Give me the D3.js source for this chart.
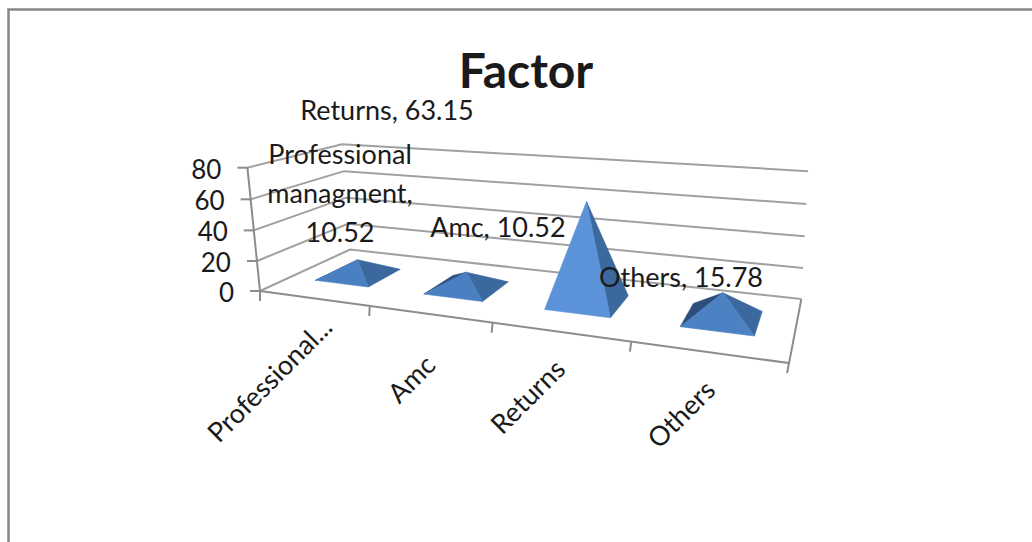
<!DOCTYPE html>
<html>
<head>
<meta charset="utf-8">
<script src="https://cdn.jsdelivr.net/npm/d3@7"></script>
<style>
  html, body { margin: 0; padding: 0; background: #fff; }
  svg { display: block; }
  text { font-family: Lato, "Open Sans", sans-serif; fill: #1a1a1a; }
</style>
</head>
<body>
<svg id="chart" width="1032" height="542"></svg>
<script>
const categories = ["Professional...", "Amc", "Returns", "Others"];
const values = [10.52, 10.52, 63.15, 15.78];
const valueTicks = [0, 20, 40, 60, 80];
const dataLabels = [
  ["Professional", "managment,", "10.52"],
  ["Amc, 10.52"],
  ["Returns, 63.15"],
  ["Others, 15.78"]
];
const titleText = "Factor";

// Label placement, kept apart from the series values.
const labelAnchors = [[340, 164], [498, 237], [387, 120], [681, 287]];
const categoryLabelEnds = [[334, 329], [437, 367], [567, 371], [717, 392]];

const svg = d3.select("#chart");

svg.append("path")
  .attr("d", "M1032,9.5H8.5V542")
  .attr("fill", "none")
  .attr("stroke", "#868686")
  .attr("stroke-width", 2.5);

const uScale = d3.scaleBand().domain(categories).range([0, 1]).paddingInner(0.5).paddingOuter(0.25);
const zScale = d3.scaleLinear().domain([0, 80]).range([0, 1]);

// Perspective camera of the 3-D box: u runs along the front edge,
// v runs into the depth, z is the normalised height.
function project(u, v, z) {
  const w = 1 - 0.215 * u + 0.178 * v - 0.034 * z;
  return [
    (260 + 359.4 * u + 152.3 * v - 21 * z) / w,
    (291 - 6 * u + 3 * v - 129 * z) / w
  ];
}

const line = d3.line();
const frame = svg.append("g")
  .attr("fill", "none")
  .attr("stroke", "#a0a0a0")
  .attr("stroke-width", 2);

// Gridlines wrap the left wall and the back wall.
valueTicks.forEach(t => {
  const z = zScale(t);
  frame.append("path").attr("d", line([project(0, 0, z), project(0, 1, z), project(1, 1, z)]));
});

// Floor outline and axis lines.
frame.append("path").attr("d", line([project(0, 0, 0), project(1, 0, 0), project(1, 1, 0)]))
  .attr("stroke", "#8c8c8c");
frame.append("path").attr("d", line([project(0, 0, 0), project(0, 0, 1)]))
  .attr("stroke", "#8c8c8c");

// Value axis ticks and labels.
valueTicks.forEach(t => {
  const [x, y] = project(0, 0, zScale(t));
  frame.append("path").attr("d", line([[x - 10, y], [x, y]])).attr("stroke", "#8c8c8c");
  svg.append("text")
    .attr("x", x - 26)
    .attr("y", y + 11)
    .attr("text-anchor", "end")
    .attr("font-size", 26)
    .text(t);
});

// Category ticks along the front edge.
d3.range(categories.length + 1).forEach(i => {
  const [x, y] = project(i / categories.length, 0, 0);
  frame.append("path").attr("d", line([[x, y], [x - i * 0.5, y + 10]])).attr("stroke", "#8c8c8c");
});

categories.forEach((c, i) => {
  const [x, y] = categoryLabelEnds[i];
  svg.append("text")
    .attr("transform", `translate(${x},${y}) rotate(-45)`)
    .attr("text-anchor", "end")
    .attr("font-size", 27)
    .text(c);
});

// Pyramids: a face is drawn only when the apex lies inside its base edge.
const frontShade = d3.scaleLinear().domain([10, 64]).range(["#4a7fc2", "#5b92d8"]);
const v0 = 0.3, v1 = 0.7;
const cross = (a, b, c) => (b[0] - a[0]) * (c[1] - a[1]) - (b[1] - a[1]) * (c[0] - a[0]);

values.forEach((val, i) => {
  const c = categories[i];
  const u0 = uScale(c), u1 = u0 + uScale.bandwidth();
  const fl = project(u0, v0, 0), fr = project(u1, v0, 0);
  const br = project(u1, v1, 0), bl = project(u0, v1, 0);
  const apex = project((u0 + u1) / 2, (v0 + v1) / 2, zScale(val));
  const faces = [
    [br, bl, "#27456e"],
    [bl, fl, "#2c4e7c"],
    [fr, br, "#3b689d"],
    [fl, fr, frontShade(val)]
  ];
  const g = svg.append("g");
  faces.forEach(([p, q, fill]) => {
    if (cross(p, q, apex) < 0) {
      g.append("path")
        .attr("d", line([p, q, apex]) + "Z")
        .attr("fill", fill)
        .attr("stroke", fill)
        .attr("stroke-width", 0.6)
        .attr("stroke-linejoin", "round");
    }
  });
});

// Data labels sit above everything else.
dataLabels.forEach((lines, i) => {
  const [x, y] = labelAnchors[i];
  lines.forEach((t, k) => {
    svg.append("text")
      .attr("x", x)
      .attr("y", y + k * 39)
      .attr("text-anchor", "middle")
      .attr("font-size", 27)
      .text(t);
  });
});

svg.append("text")
  .attr("x", 526)
  .attr("y", 88)
  .attr("text-anchor", "middle")
  .attr("font-size", 48)
  .attr("font-weight", 700)
  .text(titleText);
</script>
</body>
</html>
